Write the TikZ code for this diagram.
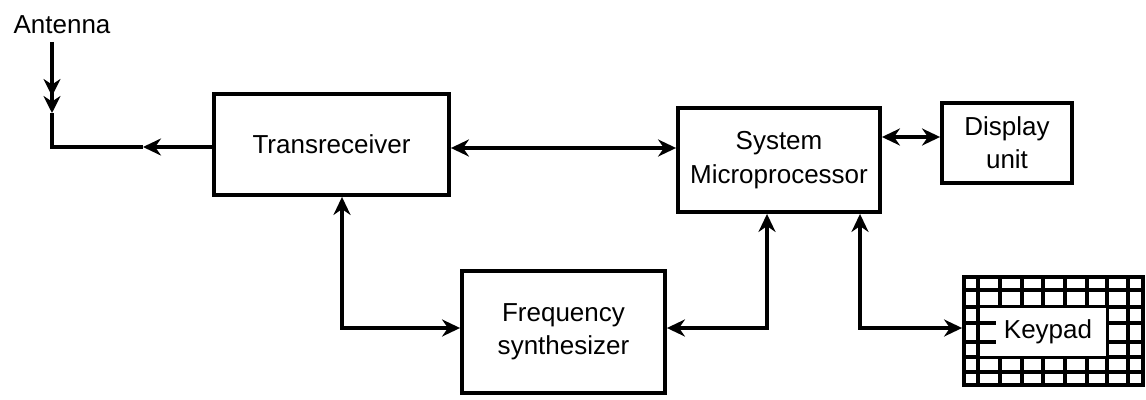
\documentclass[tikz,border=0pt]{standalone}
\usepackage{fontspec}
\setmainfont{Liberation Sans}
\usetikzlibrary{arrows.meta, positioning}
\tikzset{
  every picture/.style={line width=2.2pt},
  box/.style={draw, rectangle, align=center, inner sep=2pt, font=\fontsize{14.8}{19}\selectfont},
  arrow/.style={-{Stealth[length=3.6mm, width=3.4mm]}},
  twoway/.style={{Stealth[length=3.6mm, width=3.4mm]}-{Stealth[length=3.6mm, width=3.4mm]}},
  keyline/.style={line width=2pt},
}

\begin{document}
\begin{tikzpicture}[x=0.02cm, y=-0.02cm]
  \useasboundingbox (0,0) rectangle (1146,399);
  \node[font=\fontsize{14.8}{19}\selectfont] (ant) at (62,25) {Antenna};
  \node[box, minimum width=4.7cm, minimum height=2.02cm] (trans) at (331.5,144.5) {Transreceiver};
  \node[box, minimum width=4.04cm, minimum height=2.08cm] (sysmp) at (779,160) {System\\Microprocessor};
  \node[box, minimum width=2.6cm, minimum height=1.6cm] (disp) at (1007,143) {Display\\unit};
  \node[box, minimum width=4.06cm, minimum height=2.44cm] (freq) at (563.5,332) {Frequency\\synthesizer};
  % keypad drawn as a grid with a white patch for its name
  \node[box, minimum width=3.58cm, minimum height=2.16cm] (keypad) at (1053.5,331) {};
  \foreach \gx in {978,1000,1022,1043,1065,1087,1107,1128}
    \draw[keyline] (keypad.north -| \gx,0) -- (keypad.south -| \gx,0);
  \foreach \gy in {290,307,323,342,357,372}
    \draw[keyline] (keypad.west |- 0,\gy) -- (keypad.east |- 0,\gy);
  \node[fill=white, inner sep=0pt, minimum width=2.52cm, minimum height=0.96cm,
        font=\fontsize{14.8}{19}\selectfont] (keylabel) at (1043,332) {\hspace*{0.2cm}Keypad};
  \draw[keyline] (keylabel.west |- 0,323) -- ++(18,0);
  \draw[keyline] (keylabel.west |- 0,342) -- ++(18,0);

  % antenna feed
  \coordinate (anttip) at (52,113);
  \coordinate (antcorner) at (52,147);
  \coordinate (antmid) at (143,147);
  \draw[-{Stealth[length=3.4mm, width=3.4mm]Stealth[length=3.4mm, width=3.4mm]}] (ant.south -| anttip) -- (anttip);
  \draw (anttip) -- (antcorner) -- (antmid);
  \draw[arrow] (trans.west |- antmid) -- (antmid);

  \draw[twoway] (trans.east |- 0,148) -- (sysmp.west |- 0,148);
  \draw[twoway] (sysmp.east |- 0,137) -- (disp.west |- 0,137);
  \draw[twoway] (trans.south -| 342,0) |- (freq.west |- 0,328);
  \draw[twoway] (freq.east |- 0,328) -| (sysmp.south -| 767,0);
  \draw[twoway] (sysmp.south -| 860,0) |- (keypad.west |- 0,328);
\end{tikzpicture}
\end{document}
